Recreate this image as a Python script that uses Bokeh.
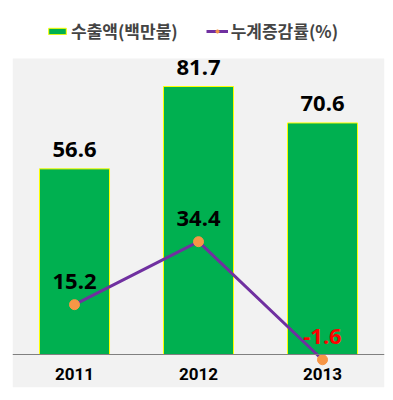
from bokeh.plotting import figure
from bokeh.models import Range1d, FactorRange, ColumnDataSource, Legend, LegendItem, BoxAnnotation
from bokeh.core.properties import value
from bokeh.embed import file_html
from bokeh.resources import INLINE

years = ["2011", "2012", "2013"]
exports = [56.6, 81.7, 70.6]
growth = [15.2, 34.4, -1.6]
export_labels = ["56.6", "81.7", "70.6"]
growth_labels = ["15.2", "34.4", "-1.6"]
growth_label_colors = ["#000000", "#000000", "#ff0000"]
legend_labels = ["수출액(백만불)", "누계증감률(%)"]

src = ColumnDataSource(dict(year=years, exports=exports, growth=growth,
                            export_labels=export_labels, growth_labels=growth_labels,
                            glc=growth_label_colors))

p = figure(width=385, height=392,
           x_range=FactorRange(factors=years, range_padding=0),
           y_range=Range1d(-10.06, 105.49),
           output_backend="svg", toolbar_location=None, y_axis_location=None,
           min_border_left=12, min_border_right=1, min_border_top=8, min_border_bottom=5)
p.background_fill_color = "white"
p.border_fill_color = "white"
p.outline_line_color = None
p.xgrid.visible = False
p.ygrid.visible = False

panel = BoxAnnotation(top=90.24, fill_color="#f2f2f2", fill_alpha=1,
                      line_color=None, level="underlay")
p.add_layout(panel)

bars = p.vbar(x="year", top="exports", width=0.565, source=src,
              fill_color="#00b050", line_color="#ffff00", line_width=1)
line = p.line(x="year", y="growth", source=src, line_color="#7030a0", line_width=3)
dots = p.scatter(x="year", y="growth", source=src, size=10,
                 fill_color="#f79646", line_color="#f79646")

p.text(x="year", y="exports", text="export_labels", source=src, y_offset=-19,
       text_align="center", text_baseline="alphabetic", text_font=value("Noto Sans"),
       text_font_size="22px", text_font_style="bold", text_color="#000000")
p.text(x="year", y="growth", text="growth_labels", source=src, y_offset=-23,
       text_align="center", text_baseline="alphabetic", text_font=value("Noto Sans"),
       text_font_size="22px", text_font_style="bold", text_color="glc")

ax = p.xaxis[0]
ax.fixed_location = 0
ax.axis_line_color = "#808080"
ax.axis_line_width = 1
ax.major_tick_line_color = None
ax.minor_tick_line_color = None
ax.major_label_standoff = 7
ax.major_label_text_font = "Roboto"
ax.major_label_text_font_size = "17px"
ax.major_label_text_font_style = "bold"
ax.major_label_text_color = "#000000"

legend = Legend(items=[LegendItem(label=legend_labels[0], renderers=[bars]),
                       LegendItem(label=legend_labels[1], renderers=[line, dots])],
                orientation="horizontal", location=(34, 344),
                label_text_font="Noto Sans CJK KR", label_text_font_size="17px",
                label_text_font_style="bold", glyph_width=22, glyph_height=8,
                label_standoff=3, spacing=28, padding=0, margin=0,
                border_line_color=None, background_fill_alpha=0)
p.add_layout(legend)

open("out.html", "w").write(file_html(p, INLINE))
